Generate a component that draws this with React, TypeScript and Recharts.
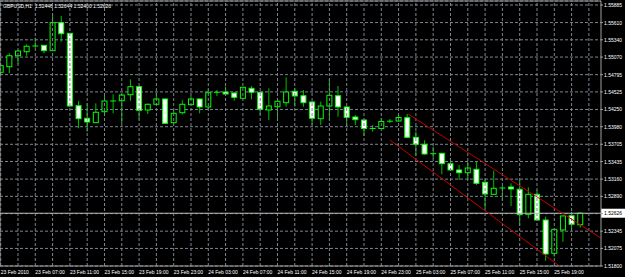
import React from 'react';
import { ComposedChart, Bar, XAxis, YAxis, CartesianGrid, ReferenceLine } from 'recharts';

const opens = [1.54832, 1.54919, 1.55091, 1.55154, 1.55243, 1.55254, 1.5517, 1.55608, 1.55442, 1.54309, 1.54112, 1.54043, 1.54215, 1.54383, 1.54387, 1.54481, 1.54606, 1.54242, 1.54331, 1.54414, 1.54043, 1.54199, 1.54325, 1.54414, 1.54289, 1.54519, 1.54523, 1.54508, 1.54425, 1.54581, 1.54519, 1.54242, 1.54293, 1.54356, 1.54534, 1.54465, 1.54367, 1.54105, 1.54304, 1.54465, 1.54289, 1.54132, 1.54085, 1.53952, 1.53952, 1.54066, 1.54069, 1.54121, 1.53814, 1.53705, 1.53558, 1.53564, 1.53401, 1.53303, 1.5326, 1.53314, 1.5311, 1.52922, 1.53021, 1.53037, 1.53001, 1.52609, 1.52922, 1.5252, 1.51999, 1.52364, 1.52587, 1.52446];
const highs = [1.54962, 1.55129, 1.55181, 1.5527, 1.55373, 1.55259, 1.55728, 1.55713, 1.55447, 1.54383, 1.54346, 1.54346, 1.54461, 1.54487, 1.54492, 1.54722, 1.54617, 1.54343, 1.54519, 1.54422, 1.54242, 1.54393, 1.54461, 1.54422, 1.54566, 1.54555, 1.54606, 1.54516, 1.54602, 1.54617, 1.54523, 1.54581, 1.54383, 1.54753, 1.54581, 1.54555, 1.54375, 1.54372, 1.54722, 1.54617, 1.54296, 1.54163, 1.54093, 1.54007, 1.54112, 1.54101, 1.54163, 1.54179, 1.53902, 1.53767, 1.53667, 1.53569, 1.53433, 1.53381, 1.53433, 1.53433, 1.53157, 1.53292, 1.53052, 1.53094, 1.53146, 1.53032, 1.5299, 1.52572, 1.52379, 1.52591, 1.5265, 1.52644];
const lows = [1.54789, 1.54816, 1.54957, 1.55091, 1.55207, 1.55129, 1.55165, 1.55311, 1.54289, 1.53955, 1.53902, 1.54038, 1.54148, 1.5419, 1.54033, 1.54387, 1.54096, 1.54179, 1.5432, 1.54023, 1.54033, 1.54174, 1.5432, 1.5419, 1.54253, 1.54461, 1.54484, 1.54387, 1.54422, 1.54409, 1.54163, 1.54085, 1.54085, 1.54293, 1.54293, 1.54293, 1.54007, 1.54007, 1.54085, 1.54137, 1.53991, 1.54007, 1.53835, 1.53902, 1.53944, 1.54038, 1.54062, 1.53803, 1.53526, 1.53545, 1.53486, 1.53235, 1.53295, 1.53146, 1.53146, 1.53068, 1.52703, 1.52919, 1.52822, 1.52739, 1.52426, 1.52547, 1.52512, 1.51883, 1.51946, 1.5218, 1.52364, 1.524];
const closes = [1.54935, 1.55091, 1.55165, 1.55239, 1.55246, 1.5517, 1.55608, 1.55436, 1.54304, 1.54105, 1.54054, 1.54206, 1.54383, 1.5438, 1.54476, 1.54606, 1.54237, 1.54331, 1.54414, 1.54033, 1.5419, 1.54331, 1.54414, 1.54289, 1.54512, 1.54516, 1.54492, 1.5444, 1.54597, 1.54519, 1.54253, 1.54304, 1.54378, 1.54523, 1.54461, 1.54356, 1.54112, 1.54304, 1.54472, 1.54289, 1.54127, 1.5409, 1.53952, 1.5395, 1.54062, 1.54069, 1.54124, 1.53814, 1.53705, 1.53553, 1.53556, 1.53401, 1.53303, 1.5326, 1.53334, 1.53094, 1.52927, 1.53016, 1.53019, 1.53005, 1.52603, 1.52922, 1.5252, 1.51988, 1.52374, 1.52583, 1.52453, 1.52626];

const timeLabels = ['23 Feb 2010', '23 Feb 07:00', '23 Feb 11:00', '23 Feb 15:00', '23 Feb 19:00', '23 Feb 23:00', '24 Feb 03:00', '24 Feb 07:00', '24 Feb 11:00', '24 Feb 15:00', '24 Feb 19:00', '24 Feb 23:00', '25 Feb 03:00', '25 Feb 07:00', '25 Feb 11:00', '25 Feb 15:00', '25 Feb 19:00'];
const priceTicks = [1.518, 1.52075, 1.52345, 1.5262, 1.5289, 1.5316, 1.53435, 1.53705, 1.5398, 1.5425, 1.54525, 1.54795, 1.5507, 1.5534, 1.5561, 1.55885];
const gridBars = [0, 2, 4, 6, 8, 10, 12, 14, 16, 18, 20, 22, 24, 26, 28, 30, 32, 34, 36, 38, 40, 42, 44, 46, 48, 50, 52, 54, 56, 58, 60, 62, 64, 66, 68];
const bid = 1.52626;
const title = 'GBPUSD,H1  1.52446 1.52644 1.52400 1.52626';
const upperChannel = [{ x: 47.1, y: 1.54179 }, { x: 69.3, y: 1.52245 }];
const lowerChannel = [{ x: 45.0, y: 1.53772 }, { x: 64.6, y: 1.518 }];

const xDomain = [-0.08, 69.4];
const yDomain = [1.518, 1.559475];

const data = opens.map((o, i) => ({ i, open: o, high: highs[i], low: lows[i], close: closes[i] }));
const barTicks = data.map((d) => d.i);

const FONT = 'Liberation Sans, Arial, sans-serif';
const OUT = '#00ff00';
const WICK = '#00c000';
const GRID = '#7b8591';
const BORDER = '#a0a0a0';

const Candle = (props: any) => {
  const { x, y, width, height, payload } = props;
  if (!payload || height == null) return <g />;
  const { open, close, high, low } = payload;
  const top = Math.min(y, y + height);
  const bot = Math.max(y, y + height);
  const span = high - low || 1e-9;
  const toY = (v: number) => top + ((high - v) / span) * (bot - top);
  const cx = x + width / 2;
  const yo = toY(open);
  const yc = toY(close);
  const bTop = Math.min(yo, yc);
  const bBot = Math.max(yo, yc);
  const up = close >= open;
  return (
    <g>
      <line x1={cx} x2={cx} y1={top} y2={bot} stroke={WICK} strokeWidth={1} />
      {bBot - bTop < 1 ? (
        <line x1={cx - 3} x2={cx + 3} y1={yo} y2={yo} stroke={OUT} strokeWidth={1} />
      ) : (
        <rect x={cx - 2.5} y={bTop} width={5} height={bBot - bTop} fill={up ? '#000000' : '#ffffff'} stroke={OUT} strokeWidth={1} />
      )}
    </g>
  );
};

const TimeTick = (props: any) => {
  const { x, y, payload } = props;
  const v = payload.value;
  if (v % 4 !== 0 || !timeLabels[v / 4]) return <g />;
  return (
    <text x={x} y={y + 8} fontSize={5} fontFamily={FONT} fill="#ffffff" textAnchor="start">
      {timeLabels[v / 4]}
    </text>
  );
};

const PriceTick = (props: any) => {
  const { x, y, payload } = props;
  if (Math.abs(payload.value - bid) < 0.0005) return <g />;
  return (
    <text x={x} y={y + 2} fontSize={5} fontFamily={FONT} fill="#ffffff" textAnchor="start">
      {payload.value.toFixed(5)}
    </text>
  );
};

const BidLabel = (props: any) => {
  const vb = props.viewBox || {};
  const right = (vb.x || 0) + (vb.width || 0);
  const cy = vb.y || 0;
  return (
    <g>
      <rect x={right} y={cy - 4.5} width={24} height={9} fill="#ffffff" />
      <text x={right + 3} y={cy + 2} fontSize={5} fontFamily={FONT} fill="#000000">
        {bid.toFixed(5)}
      </text>
    </g>
  );
};

export default function App() {
  return (
    <div style={{ position: 'absolute', left: 0, top: 0, width: 625, height: 277, background: '#000000', overflow: 'hidden' }}>
      <ComposedChart width={625} height={277} data={data} margin={{ top: 1, right: 0, bottom: 0, left: 0 }}>
        <CartesianGrid vertical={false} stroke={GRID} strokeDasharray="3 2" />
        <XAxis
          dataKey="i"
          type="number"
          domain={xDomain}
          ticks={barTicks}
          allowDataOverflow
          height={11}
          tickLine={false}
          tickSize={0}
          tickMargin={0}
          axisLine={{ stroke: BORDER }}
          tick={<TimeTick />}
          interval={0}
        />
        <YAxis
          orientation="right"
          type="number"
          domain={yDomain}
          ticks={priceTicks}
          allowDataOverflow
          width={24}
          tickSize={2}
          tickMargin={1}
          tickLine={{ stroke: BORDER }}
          axisLine={{ stroke: BORDER }}
          tick={<PriceTick />}
          interval={0}
        />
        {gridBars.map((g) => (
          <ReferenceLine key={'g' + g} x={g} stroke={GRID} strokeDasharray="3 2" />
        ))}
        <ReferenceLine y={bid} stroke="#b8b8b8" strokeWidth={1} label={<BidLabel />} />
        <Bar dataKey={(d: any) => [d.low, d.high]} barSize={8.64} shape={<Candle />} isAnimationActive={false} />
        <ReferenceLine segment={upperChannel} stroke="#c00000" strokeWidth={1} />
        <ReferenceLine segment={lowerChannel} stroke="#c00000" strokeWidth={1} />
        <ReferenceLine x={xDomain[0]} stroke={BORDER} />
        <ReferenceLine y={yDomain[1]} stroke={BORDER} />
        <text x={3} y={8} fontSize={5} fontFamily={FONT} fill="#ffffff" style={{ whiteSpace: 'pre' }}>
          {title}
        </text>
      </ComposedChart>
    </div>
  );
}
